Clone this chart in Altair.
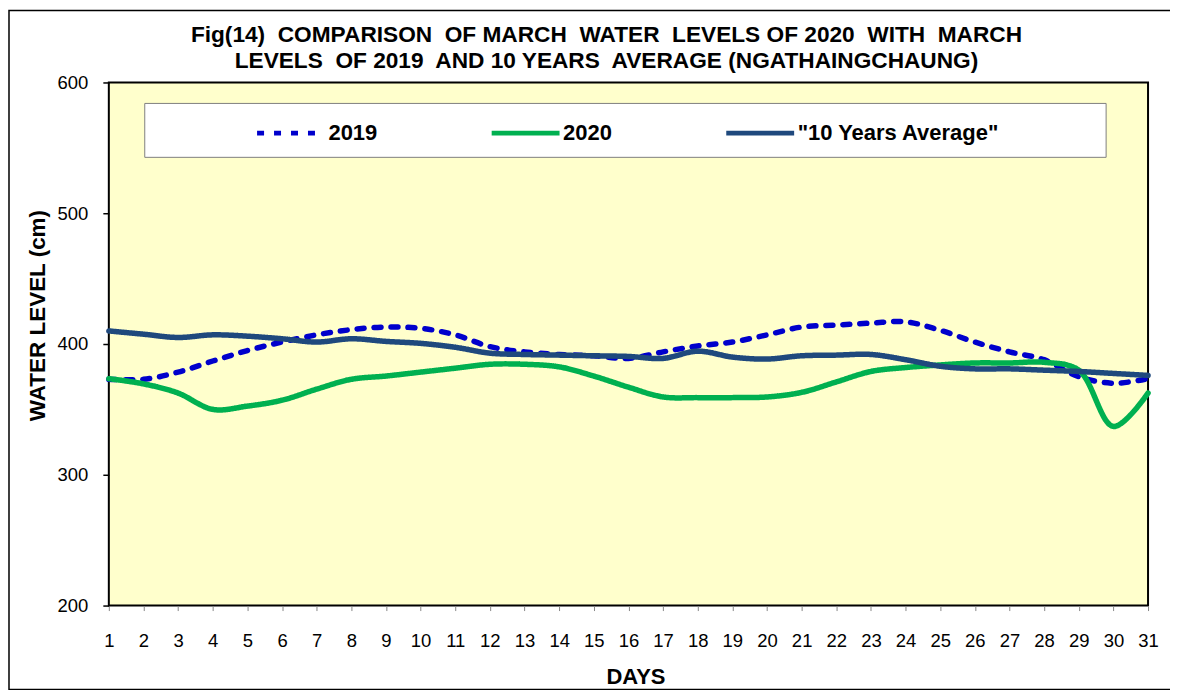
import altair as alt
import pandas as pd

days = list(range(1, 32))
y2019 = [373, 373, 378.5, 387, 395, 401.5, 407, 411, 413, 412, 407, 398, 394, 392, 391, 389,
         394, 398.5, 401.5, 407, 413, 414.5, 416, 417, 410.5, 401.5, 394, 388, 375, 370, 373.5]
y2020 = [373.5, 369.5, 362.5, 350, 352.5, 357, 365.5, 373, 375.5, 378.5, 381.5, 384.5, 384.5, 382.5,
         375.5, 367, 359.5, 359, 359, 359.5, 363, 371, 379, 382, 384, 385.5, 385.5, 386, 380, 337, 362.5]
avg10 = [410, 407.5, 405, 407, 406, 404, 401.5, 404, 402, 400.5, 397.5, 393, 392, 391.5, 391, 390.5,
         389, 394.5, 390, 388.5, 391, 391.5, 392, 388, 383, 381, 381, 380, 379, 377.5, 376]

series_names = ["2019", "2020", "\"10 Years Average\""]
series_colors = ["#0000CC", "#00B050", "#1F497D"]
series_dash = [[7, 10], [1, 0], [1, 0]]

rows = []
for name, vals in zip(series_names, [y2019, y2020, avg10]):
    for d, v in zip(days, vals):
        rows.append({"day": d, "level": v, "series": name})
df = pd.DataFrame(rows)

FONT = "Liberation Sans"
W, H = 1041, 524

legend = alt.Legend(
    orient="none", legendX=146, legendY=14, direction="horizontal", title=None,
    symbolType="stroke", symbolSize=4624, symbolStrokeWidth=5,
    labelFont=FONT, labelFontWeight="bold", labelFontSize=22, labelColor="black",
    labelOffset=1, columnPadding=104, padding=0, labelLimit=400,
)

lines = alt.Chart(df).mark_line(interpolate="catmull-rom", strokeWidth=5.5, strokeCap="round").encode(
    x=alt.X("day:Q", scale=alt.Scale(domain=[1, 31], nice=False, zero=False),
            axis=alt.Axis(values=days, title="DAYS", format="d", grid=False, labelFlush=False,
                          labelFont=FONT, labelFontSize=18.5, labelColor="black",
                          tickColor="#888888", tickSize=5, labelPadding=21,
                          domain=False, titleFont=FONT, titleFontSize=22, titleFontWeight="bold",
                          titleColor="black", titlePadding=17, titleX=527.5)),
    y=alt.Y("level:Q", scale=alt.Scale(domain=[200, 600], nice=False, zero=False),
            axis=alt.Axis(values=[200, 300, 400, 500, 600], title="WATER LEVEL (cm)", grid=False,
                          labelFlush=False,
                          labelFont=FONT, labelFontSize=18.5, labelColor="black",
                          tickColor="black", tickSize=6, tickWidth=1.5, labelPadding=15,
                          domain=False, titleFont=FONT, titleFontSize=22.5, titleFontWeight="bold",
                          titleColor="black", titlePadding=8, titleY=233)),
    color=alt.Color("series:N", scale=alt.Scale(domain=series_names, range=series_colors), legend=legend),
    strokeDash=alt.StrokeDash("series:N", scale=alt.Scale(domain=series_names, range=series_dash), legend=legend),
    detail="series:N",
)

one = pd.DataFrame({"a": [0]})
legend_box = alt.Chart(one).mark_rect(fill="white", stroke="#7f7f7f", strokeWidth=1).encode(
    x=alt.value(36), x2=alt.value(999), y=alt.value(21), y2=alt.value(75)
)
outer = alt.Chart(one).mark_rect(fillOpacity=0, stroke="black", strokeWidth=1.5).encode(
    x=alt.value(-100), x2=alt.value(1064), y=alt.value(-72), y2=alt.value(608)
)

title = alt.TitleParams(
    text=["Fig(14)\u00a0 COMPARISON\u00a0 OF MARCH\u00a0 WATER\u00a0 LEVELS OF 2020\u00a0 WITH\u00a0 MARCH",
          "LEVELS\u00a0 OF 2019\u00a0 AND 10 YEARS\u00a0 AVERAGE (NGATHAINGCHAUNG)"],
    font=FONT, fontSize=22.7, fontWeight="bold", color="black", anchor="middle", frame="group",
    dx=-22, offset=-63, lineHeight=26,
)

chart = alt.layer(outer, legend_box, lines).properties(
    width=W, height=H, title=title,
    autosize=alt.AutoSizeParams(type="none"),
    padding={"left": 101, "top": 74, "right": 22, "bottom": 84},
).configure_view(fill="#FFFFCC", stroke="black", strokeWidth=2)

chart.save("out.html", embed_options={"renderer": "svg", "actions": False})
